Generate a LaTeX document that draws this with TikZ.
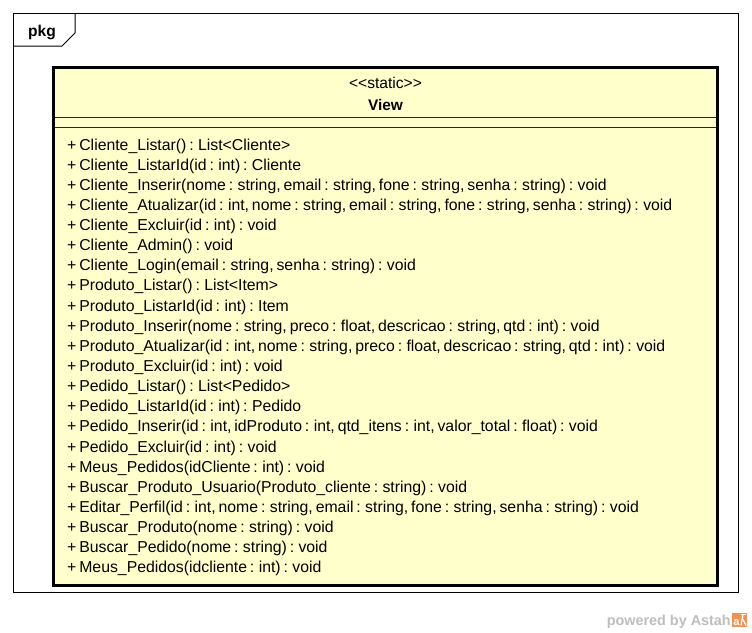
\documentclass[tikz,border=0pt]{standalone}
\usepackage{fontspec}
\setmainfont{Liberation Sans}[Ligatures=TeXOff]
\newfontfamily\wmfont{Liberation Sans}
\newcommand\myopfont{\fontsize{15.8}{18}\selectfont\spaceskip 2.92pt\relax}
\definecolor{classfill}{RGB}{255,255,204}
\definecolor{astahgray}{RGB}{190,190,190}
\definecolor{astahorange}{RGB}{240,146,84}
\tikzset{
  frameline/.style={draw=black, line width=1pt},
  classbox/.style={draw=black, line width=3pt, fill=classfill},
  sepline/.style={draw=black!85, line width=1pt},
  optext/.style={anchor=base west, inner sep=0pt, font=\myopfont},
  headtext/.style={anchor=base, inner sep=0pt, font=\fontsize{15.6}{18}\selectfont},
  headbold/.style={anchor=base, inner sep=0pt, font=\fontsize{15.4}{18}\selectfont\bfseries},
}
\begin{document}
\begin{tikzpicture}[x=1pt, y=-1pt]
\useasboundingbox (0,0) rectangle (752,632);
\fill[white] (0,0) rectangle (752,632);
% package frame
\draw[frameline] (13.5,13.5) rectangle (738.5,592.5);
\draw[frameline] (13.5,46) -- (62,46) -- (75,33) -- (75,13.5);
\node[anchor=base, inner sep=0pt, font=\fontsize{15.6}{18}\selectfont\bfseries] (pkg) at (42,36) {pkg};
% class box
\draw[classbox] (53.5,67.5) rectangle (717.5,585.5);
\draw[sepline] (55,117) -- (716,117);
\draw[sepline] (55,127) -- (716,127);
\node[headtext] (stereo) at (385.5,88) {<<static>>};
\node[headbold] (name) at (385.5,110) {View};
% operations
\node[optext] (op1) at (67,150.0) {+ Cliente\_Listar() : List<Cliente>};
\node[optext] (op2) at (67,170.14) {+ Cliente\_ListarId(id : int) : Cliente};
\node[optext] (op3) at (67,190.28) {+ Cliente\_Inserir(nome : string, email : string, fone : string, senha : string) : void};
\node[optext] (op4) at (67,210.42) {+ Cliente\_Atualizar(id : int, nome : string, email : string, fone : string, senha : string) : void};
\node[optext] (op5) at (67,230.56) {+ Cliente\_Excluir(id : int) : void};
\node[optext] (op6) at (67,250.70) {+ Cliente\_Admin() : void};
\node[optext] (op7) at (67,270.84) {+ Cliente\_Login(email : string, senha : string) : void};
\node[optext] (op8) at (67,290.98) {+ Produto\_Listar() : List<Item>};
\node[optext] (op9) at (67,311.12) {+ Produto\_ListarId(id : int) : Item};
\node[optext] (op10) at (67,331.26) {+ Produto\_Inserir(nome : string, preco : float, descricao : string, qtd : int) : void};
\node[optext] (op11) at (67,351.40) {+ Produto\_Atualizar(id : int, nome : string, preco : float, descricao : string, qtd : int) : void};
\node[optext] (op12) at (67,371.54) {+ Produto\_Excluir(id : int) : void};
\node[optext] (op13) at (67,391.68) {+ Pedido\_Listar() : List<Pedido>};
\node[optext] (op14) at (67,411.82) {+ Pedido\_ListarId(id : int) : Pedido};
\node[optext] (op15) at (67,431.96) {+ Pedido\_Inserir(id : int, idProduto : int, qtd\_itens : int, valor\_total : float) : void};
\node[optext] (op16) at (67,452.10) {+ Pedido\_Excluir(id : int) : void};
\node[optext] (op17) at (67,472.24) {+ Meus\_Pedidos(idCliente : int) : void};
\node[optext] (op18) at (67,492.38) {+ Buscar\_Produto\_Usuario(Produto\_cliente : string) : void};
\node[optext] (op19) at (67,512.52) {+ Editar\_Perfil(id : int, nome : string, email : string, fone : string, senha : string) : void};
\node[optext] (op20) at (67,532.66) {+ Buscar\_Produto(nome : string) : void};
\node[optext] (op21) at (67,552.80) {+ Buscar\_Pedido(nome : string) : void};
\node[optext] (op22) at (67,572.94) {+ Meus\_Pedidos(idcliente : int) : void};
% watermark
\node[anchor=base east, inner sep=0pt, text=astahgray, font=\wmfont\fontsize{14.4}{16}\selectfont\bfseries] (powered) at (731,625) {powered by Astah};
\fill[astahorange] (732,612.5) rectangle (747,626.5);
\node[anchor=base, inner sep=0pt, text=white, font=\wmfont\fontsize{11}{12}\selectfont\bfseries] (logoa) at (736.5,625) {a};
\draw[white, line width=1.2pt] (740.5,614.5) -- (746,614.5);
\draw[white, line width=1.2pt] (743,614.5) -- (741,625.5);
\draw[white, line width=1.2pt] (743,619.5) -- (746,625.5);
\end{tikzpicture}
\end{document}
